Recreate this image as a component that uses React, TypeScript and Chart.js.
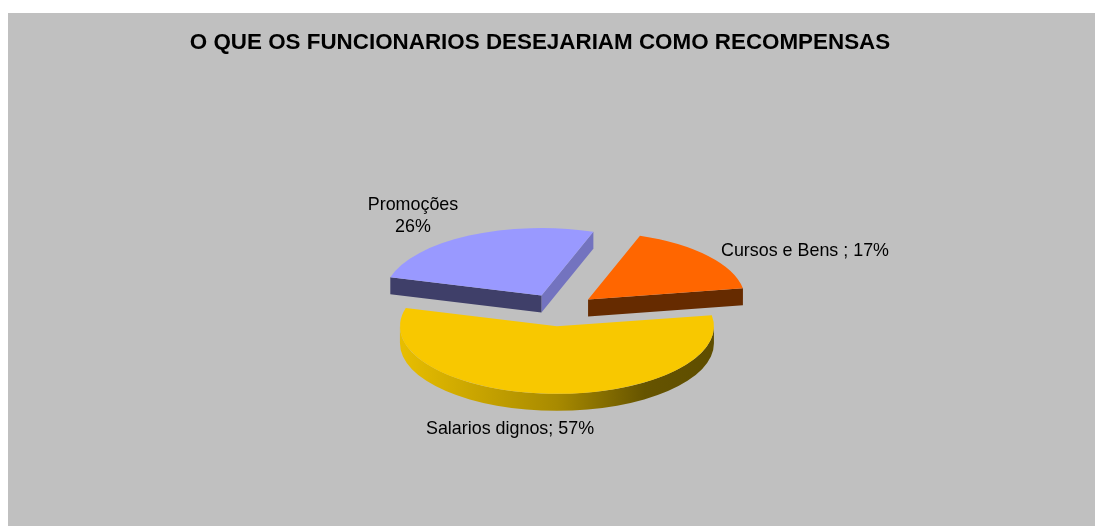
import React, { useEffect, useRef } from "react";
import { Chart, registerables } from "chart.js";

Chart.register(...registerables);

const TITLE = "O QUE OS FUNCIONARIOS DESEJARIAM COMO RECOMPENSAS";
const categories = ["Salarios dignos", "Promoções", "Cursos e Bens "];
const values = [57, 26, 17];
const sliceColors = ["#F8C800", "#9999FF", "#FF6600"];
const sliceFrontWalls = ["#5E4D00", "#3F3F69", "#662B00"];
const sliceSideWalls = ["#5E4D00", "#7373BF", "#662B00"];

const FONT = "'Liberation Sans', Arial, sans-serif";
const CANVAS_W = 1087;
const CANVAS_H = 513;
const ROTATION = 80.5;
const RADIUS = 157;
const SQUASH = 0.43;
const DEPTH = 17;
const EXPLODE = 38;
const PIE_CX = 551;
const PIE_CY = 297;

// Label text as composed in the reference, with its anchor in canvas pixels.
const labelAnchors = [
  { lines: [`${categories[0]}; ${values[0]}%`], x: 502, y: 416 },
  { lines: [categories[1], `${values[1]}%`], x: 405, y: 192 },
  { lines: [`${categories[2]}; ${values[2]}%`], x: 797, y: 238 },
];

const pie3d = {
  id: "pie3d",
  beforeDatasetsDraw(chart: any) {
    const ctx: CanvasRenderingContext2D = chart.ctx;
    const arcs = chart.getDatasetMeta(0).data;
    const order = [1, 2, 0];

    for (const i of order) {
      const arc = arcs[i];
      const { startAngle: a0, endAngle: a1, outerRadius: R } = arc;
      const mid = (a0 + a1) / 2;
      const cx = PIE_CX + Math.cos(mid) * EXPLODE;
      const cy = PIE_CY + Math.sin(mid) * EXPLODE * SQUASH;

      // radial cut faces that turn towards the viewer
      const wall = (angle: number, normal: number) => {
        if (Math.sin(normal) <= 0) return;
        const ex = cx + Math.cos(angle) * R;
        const ey = cy + Math.sin(angle) * R * SQUASH;
        ctx.beginPath();
        ctx.moveTo(cx, cy);
        ctx.lineTo(ex, ey);
        ctx.lineTo(ex, ey + DEPTH);
        ctx.lineTo(cx, cy + DEPTH);
        ctx.closePath();
        ctx.fillStyle =
          Math.abs(Math.cos(normal)) > 0.7 ? sliceSideWalls[i] : sliceFrontWalls[i];
        ctx.fill();
      };
      wall(a1, a1 + Math.PI / 2);
      wall(a0, a0 - Math.PI / 2);

      // outer rim on the near half of the ellipse
      const r0 = Math.max(a0, 0);
      const r1 = Math.min(a1, Math.PI);
      if (r1 > r0) {
        const g = ctx.createLinearGradient(cx - R, 0, cx + R, 0);
        g.addColorStop(0, "#E8BE00");
        g.addColorStop(0.5, "#A88A00");
        g.addColorStop(0.78, "#665400");
        g.addColorStop(1, sliceFrontWalls[i]);
        ctx.beginPath();
        ctx.ellipse(cx, cy, R, R * SQUASH, 0, r0, r1);
        ctx.ellipse(cx, cy + DEPTH, R, R * SQUASH, 0, r1, r0, true);
        ctx.closePath();
        ctx.fillStyle = g;
        ctx.fill();
      }

      // top face: the library's own arc element, flattened and moved out
      ctx.save();
      ctx.translate(cx, cy);
      ctx.scale(1, SQUASH);
      ctx.translate(-arc.x, -arc.y);
      arc.draw(ctx);
      ctx.restore();
    }

    ctx.save();
    ctx.fillStyle = "#000";
    ctx.font = `17.9px ${FONT}`;
    ctx.textAlign = "center";
    ctx.textBaseline = "middle";
    for (const l of labelAnchors) {
      l.lines.forEach((t, n) => ctx.fillText(t, l.x, l.y + n * 22));
    }
    ctx.restore();
    return false;
  },
};

export default function App() {
  const ref = useRef<HTMLCanvasElement>(null);
  useEffect(() => {
    const chart = new Chart(ref.current!, {
      type: "pie",
      data: {
        labels: categories,
        datasets: [
          {
            data: values,
            backgroundColor: sliceColors,
            borderWidth: 0,
          },
        ],
      },
      options: {
        responsive: false,
        animation: false,
        rotation: ROTATION,
        radius: RADIUS,
        layout: { padding: { left: 0, right: 23, top: 0, bottom: 0 } },
        plugins: {
          legend: { display: false },
          tooltip: { enabled: false },
          title: {
            display: true,
            text: TITLE,
            color: "#000",
            font: { family: FONT, size: 22.4, weight: "bold" },
            padding: { top: 16, bottom: 10 },
          },
        },
      },
      plugins: [pie3d],
    } as any);
    return () => chart.destroy();
  }, []);
  return (
    <div style={{ position: "absolute", left: 8, top: 13, width: CANVAS_W, height: CANVAS_H }}>
      <canvas
        ref={ref}
        width={CANVAS_W}
        height={CANVAS_H}
        style={{ display: "block", background: "#C0C0C0", filter: "blur(0.4px)" }}
      />
    </div>
  );
}
